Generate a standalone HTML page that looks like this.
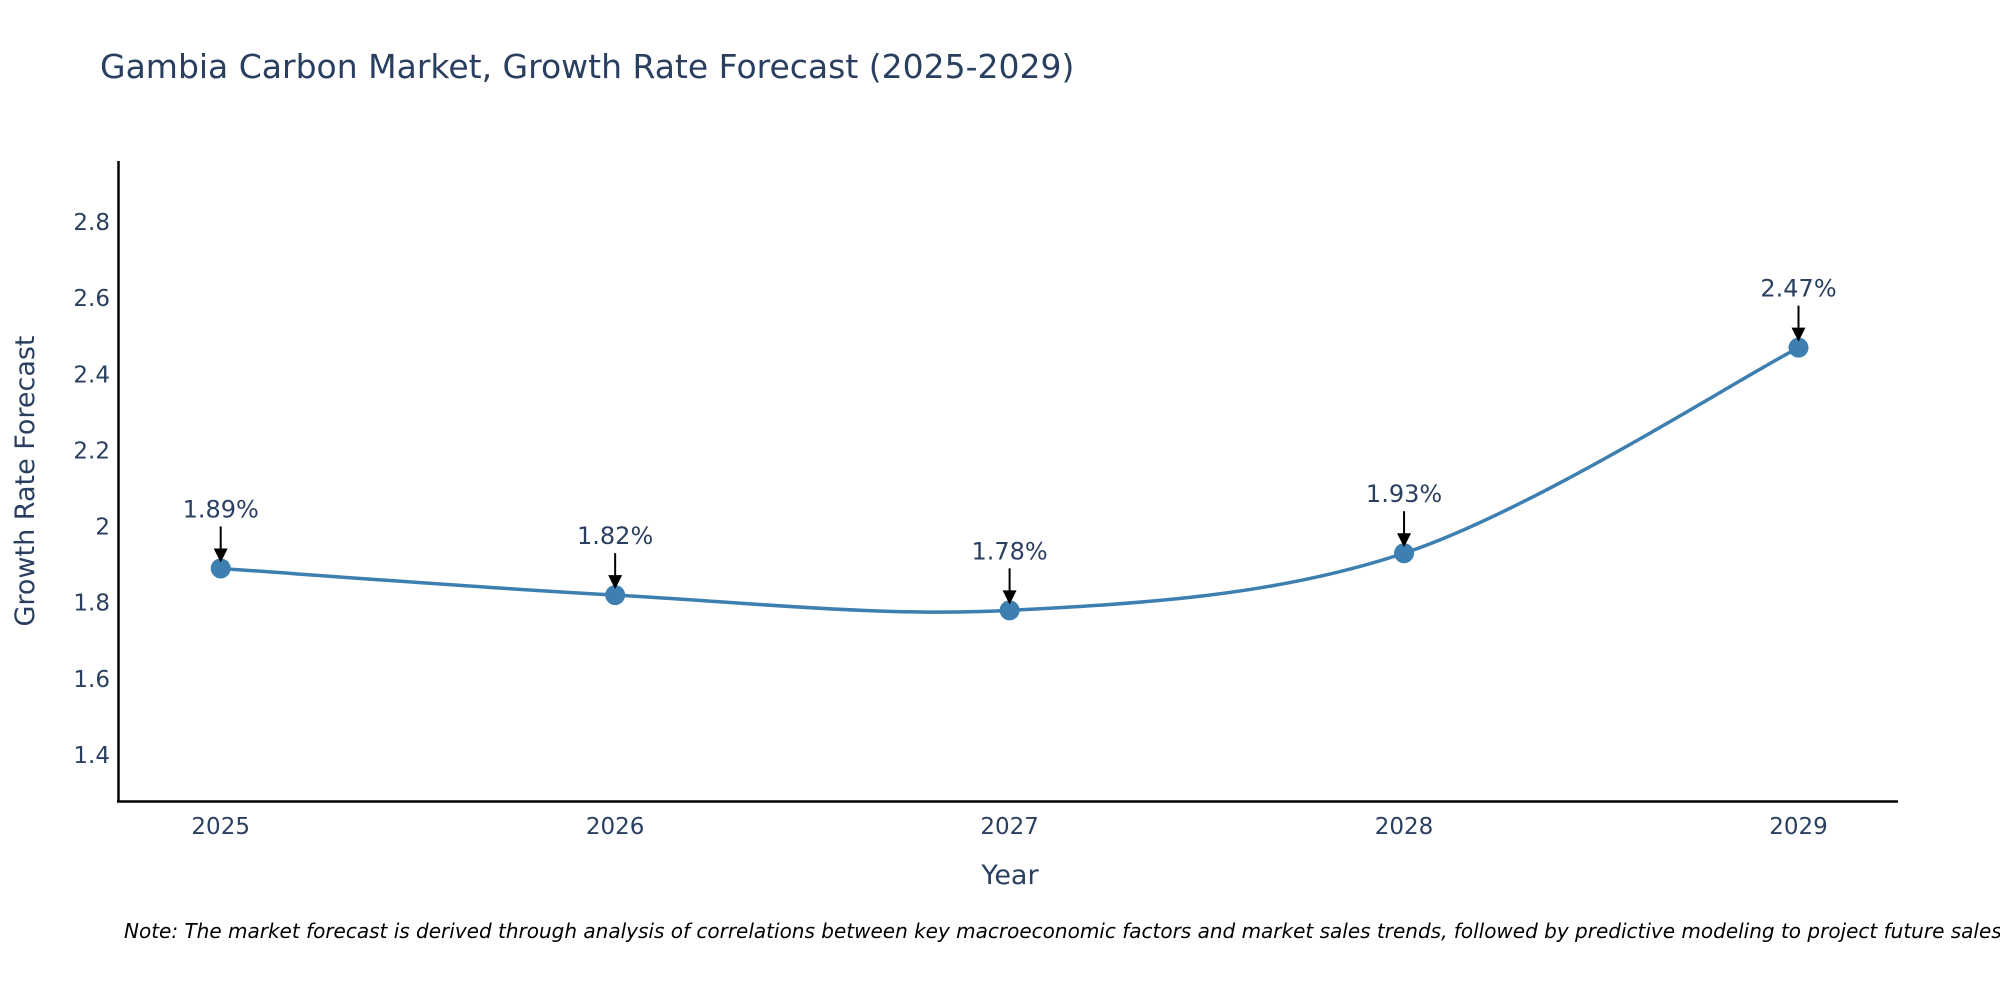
<!DOCTYPE html>
<html><head><meta charset="utf-8">
<style>
body{margin:0;background:#fff;}
svg{display:block;font-family:"DejaVu Sans","Liberation Sans",sans-serif;}
</style></head>
<body>
<svg id="chart" width="2000" height="1000" viewBox="0 0 2000 1000">
  <text x="100" y="78" font-size="33" fill="#2a3f5f">Gambia Carbon Market, Growth Rate Forecast (2025-2029)</text>
  <g id="yticks"></g>
  <g id="xticks"></g>
  <line x1="118.5" y1="161" x2="118.5" y2="802" stroke="#000" stroke-width="2.5"/>
  <line x1="117" y1="801.5" x2="1898" y2="801.5" stroke="#000" stroke-width="2.5"/>
  <text transform="translate(34,481) rotate(-90)" text-anchor="middle" font-size="27" fill="#2a3f5f">Growth Rate Forecast</text>
  <text x="1010" y="884" text-anchor="middle" font-size="27" fill="#2a3f5f">Year</text>
  <g id="series"></g>
  <text x="124" y="938" font-size="20" font-style="italic" fill="#000">Note: The market forecast is derived through analysis of correlations between key macroeconomic factors and market sales trends, followed by predictive modeling to project future sales.</text>
</svg>
<script>
const years = [2025, 2026, 2027, 2028, 2029];
const values = [1.89, 1.82, 1.78, 1.93, 2.47];
const labels = ["1.89%", "1.82%", "1.78%", "1.93%", "2.47%"];
const yTickValues = [1.4, 1.6, 1.8, 2.0, 2.2, 2.4, 2.6, 2.8];
const yTickLabels = ["1.4", "1.6", "1.8", "2", "2.2", "2.4", "2.6", "2.8"];

const NS = "http://www.w3.org/2000/svg";
function xs(yr){ return 220.7 + (yr-2025)*(1798.5-220.7)/4; }
function ys(v){ return 755 - (v-1.4)*380.7; }
function mk(tag, attrs, parent){ const e=document.createElementNS(NS,tag); for(const k in attrs) e.setAttribute(k,attrs[k]); parent.appendChild(e); return e; }

const yt=document.getElementById('yticks');
yTickValues.forEach((v,i)=>{
  const t=mk('text',{x:110,y:ys(v)+8,'text-anchor':'end','font-size':'23',fill:'#2a3f5f'},yt);
  
  
  t.textContent=yTickLabels[i];
});
const xt=document.getElementById('xticks');
years.forEach(yr=>{
  const t=mk('text',{x:xs(yr),y:834,'text-anchor':'middle','font-size':'23',fill:'#2a3f5f'},xt);
  
  
  t.textContent=String(yr);
});

const g=document.getElementById('series');
const pts=years.map((yr,i)=>[xs(yr),ys(values[i])]);
let d='M'+pts[0][0]+','+pts[0][1];
const s=0.33;
for(let i=0;i<pts.length-1;i++){
  const p0=pts[Math.max(0,i-1)],p1=pts[i],p2=pts[i+1],p3=pts[Math.min(pts.length-1,i+2)];
  const c1=[p1[0]+(p2[0]-p0[0])*s/2,p1[1]+(p2[1]-p0[1])*s/2];
  const c2=[p2[0]-(p3[0]-p1[0])*s/2,p2[1]-(p3[1]-p1[1])*s/2];
  d+=' C'+c1[0]+','+c1[1]+' '+c2[0]+','+c2[1]+' '+p2[0]+','+p2[1];
}
const line=mk('path',{d:d,fill:'none',stroke:'#3d7fb0','stroke-width':'3.5'},g);


pts.forEach((p,i)=>{
  const c=mk('circle',{cx:p[0],cy:p[1],r:10,fill:'#3d7fb0'},g);
  
  
  const a=mk('line',{x1:p[0],y1:p[1]-42,x2:p[0],y2:p[1]-18,stroke:'#000','stroke-width':'2'},g);
  
  
  const h=mk('polygon',{points:(p[0]-7)+','+(p[1]-20)+' '+(p[0]+7)+','+(p[1]-20)+' '+p[0]+','+(p[1]-6),fill:'#000'},g);
  
  
  const t=mk('text',{x:p[0],y:p[1]-51,'text-anchor':'middle','font-size':'24',fill:'#2a3f5f'},g);
  
  
  t.textContent=labels[i];
});
</script>
</body></html>
